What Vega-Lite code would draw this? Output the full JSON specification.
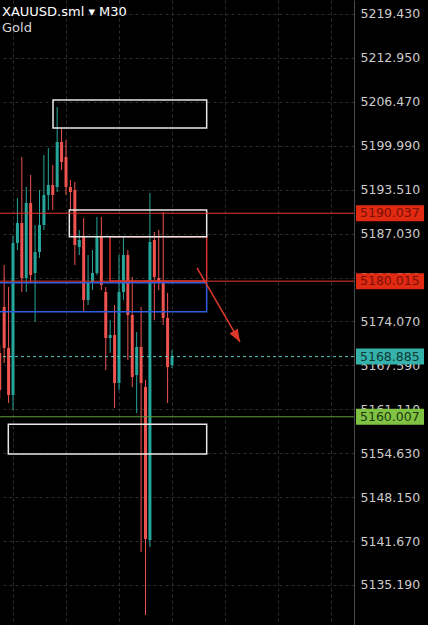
{
  "$schema": "https://vega.github.io/schema/vega-lite/v6.json",
  "width": 354,
  "height": 625,
  "autosize": {"type": "none"},
  "padding": {"left": 0, "top": 0, "right": 74, "bottom": 0},
  "background": "#000000",
  "config": {"view": {"stroke": null}},
  "title": {"text": "XAUUSD.sml ▾ M30", "subtitle": "Gold", "anchor": "start", "frame": "group", "offset": -35, "font": "DejaVu Sans", "fontSize": 13, "fontWeight": "normal", "color": "#ffffff", "subtitleFont": "DejaVu Sans", "subtitleFontSize": 13, "subtitleColor": "#d6d6d6", "subtitlePadding": 3, "dx": 2},
  "datasets": {
    "candles": [
      {"i":0,"o":5169.42,"h":5170.60,"l":5162.78,"c":5163.96},
      {"i":1,"o":5176.20,"h":5182.40,"l":5167.94,"c":5170.15},
      {"i":2,"o":5170.15,"h":5179.15,"l":5162.04,"c":5163.22},
      {"i":3,"o":5163.22,"h":5186.68,"l":5161.01,"c":5185.64},
      {"i":4,"o":5185.64,"h":5192.28,"l":5184.61,"c":5188.60},
      {"i":5,"o":5188.60,"h":5198.33,"l":5178.42,"c":5180.48},
      {"i":6,"o":5180.48,"h":5193.91,"l":5178.42,"c":5191.55},
      {"i":7,"o":5191.55,"h":5195.68,"l":5179.89,"c":5180.92},
      {"i":8,"o":5181.22,"h":5188.30,"l":5173.99,"c":5184.32},
      {"i":9,"o":5184.32,"h":5193.46,"l":5183.43,"c":5188.30},
      {"i":10,"o":5188.30,"h":5198.63,"l":5187.56,"c":5192.73},
      {"i":11,"o":5192.73,"h":5199.66,"l":5190.51,"c":5194.20},
      {"i":12,"o":5194.20,"h":5197.15,"l":5190.51,"c":5192.73},
      {"i":13,"o":5193.91,"h":5205.71,"l":5193.17,"c":5200.55},
      {"i":14,"o":5200.55,"h":5202.61,"l":5196.42,"c":5197.60},
      {"i":15,"o":5198.33,"h":5200.84,"l":5192.73,"c":5193.91},
      {"i":16,"o":5193.91,"h":5194.94,"l":5190.51,"c":5193.17},
      {"i":17,"o":5193.46,"h":5194.64,"l":5182.40,"c":5185.35},
      {"i":18,"o":5185.05,"h":5187.56,"l":5183.87,"c":5186.09},
      {"i":19,"o":5186.53,"h":5189.33,"l":5175.47,"c":5177.24},
      {"i":20,"o":5177.24,"h":5183.87,"l":5176.50,"c":5179.74},
      {"i":21,"o":5179.74,"h":5184.61,"l":5178.71,"c":5181.22},
      {"i":22,"o":5181.22,"h":5189.48,"l":5180.92,"c":5186.53},
      {"i":23,"o":5186.53,"h":5189.48,"l":5178.71,"c":5179.45},
      {"i":24,"o":5178.42,"h":5179.15,"l":5166.91,"c":5171.63},
      {"i":25,"o":5171.63,"h":5174.29,"l":5169.42,"c":5172.07},
      {"i":26,"o":5172.07,"h":5176.50,"l":5161.30,"c":5164.99},
      {"i":27,"o":5164.99,"h":5183.87,"l":5163.96,"c":5178.42},
      {"i":28,"o":5178.42,"h":5186.53,"l":5177.24,"c":5183.87},
      {"i":29,"o":5183.87,"h":5184.61,"l":5168.38,"c":5175.02},
      {"i":30,"o":5175.02,"h":5180.63,"l":5164.40,"c":5165.88},
      {"i":31,"o":5166.17,"h":5172.51,"l":5160.56,"c":5170.30},
      {"i":32,"o":5170.30,"h":5176.20,"l":5140.06,"c":5164.99},
      {"i":33,"o":5164.40,"h":5165.43,"l":5130.76,"c":5141.98},
      {"i":34,"o":5141.83,"h":5193.02,"l":5140.80,"c":5185.79},
      {"i":35,"o":5186.09,"h":5187.27,"l":5174.29,"c":5180.63},
      {"i":36,"o":5180.48,"h":5187.56,"l":5178.71,"c":5179.89},
      {"i":37,"o":5179.74,"h":5190.22,"l":5173.55,"c":5174.58},
      {"i":38,"o":5174.58,"h":5178.27,"l":5162.04,"c":5167.35},
      {"i":39,"o":5167.65,"h":5169.86,"l":5167.20,"c":5168.885}
    ],
    "rects": [
      {"kind":"zone","x1":12.06,"x2":46.85,"y1":5206.74,"y2":5202.61},
      {"kind":"target","x1":24.96,"x2":46.85,"y1":5186.57,"y2":5180.04},
      {"kind":"zone","x1":15.75,"x2":46.85,"y1":5190.51,"y2":5186.57},
      {"kind":"entry","x1":-2,"x2":46.85,"y1":5179.79,"y2":5175.51},
      {"kind":"zone","x1":1.94,"x2":46.85,"y1":5158.90,"y2":5154.52}
    ],
    "levels": [
      {"p":5190.037,"kind":"red"},
      {"p":5180.015,"kind":"red"},
      {"p":5168.885,"kind":"last"},
      {"p":5160.007,"kind":"green"}
    ],
    "arrow": [
      {"i":44.66,"v":5181.96,"end":false},
      {"i":54.39,"v":5171.04,"end":true}
    ]
  },
  "layer": [
    {
      "data": {"name": "candles"},
      "mark": {"type": "rule", "strokeWidth": 1, "clip": true},
      "encoding": {
        "x": {"field": "i", "type": "quantitative", "title": null, "scale": {"domain": [0.057, 80.2], "nice": false, "zero": false},
              "axis": {"values": [3,15,27,39,51,63,75], "labels": false, "ticks": false, "domain": false, "grid": true, "gridColor": "#2e2e2e", "gridDash": [3,3], "title": null}},
        "y": {"field": "l", "type": "quantitative", "title": null, "scale": {"domain": [5129.288, 5221.495], "nice": false, "zero": false},
              "axis": {"orient": "right", "values": [5219.43,5212.95,5206.47,5199.99,5193.51,5187.03,5180.55,5174.07,5167.59,5161.11,5154.63,5148.15,5141.67,5135.19], "format": ".3f", "labelFont": "DejaVu Sans", "labelFontSize": 12.5, "labelColor": "#cccccc", "labelPadding": 6, "ticks": false, "domainColor": "#4a4a4a", "grid": true, "gridColor": "#2e2e2e", "gridDash": [3,3], "title": null}},
        "y2": {"field": "h"},
        "color": {"condition": {"test": "datum.c >= datum.o", "value": "#26a69a"}, "value": "#ef5350"}
      }
    },
    {
      "data": {"name": "candles"},
      "mark": {"type": "rule", "strokeWidth": 3, "strokeCap": "butt", "clip": true},
      "encoding": {
        "x": {"field": "i", "type": "quantitative", "title": null},
        "y": {"field": "o", "type": "quantitative", "title": null},
        "y2": {"field": "c"},
        "color": {"condition": {"test": "datum.c >= datum.o", "value": "#26a69a"}, "value": "#ef5350"}
      }
    },
    {
      "data": {"name": "rects"},
      "mark": {"type": "rect", "filled": false, "strokeWidth": 1.5, "clip": true},
      "encoding": {
        "x": {"field": "x1", "type": "quantitative", "title": null},
        "x2": {"field": "x2"},
        "y": {"field": "y1", "type": "quantitative", "title": null},
        "y2": {"field": "y2"},
        "stroke": {"field": "kind", "type": "nominal", "legend": null, "scale": {"domain": ["zone","target","entry"], "range": ["#e8e8e8","#d9342b","#2f5fe0"]}}
      }
    },
    {
      "data": {"name": "levels"},
      "transform": [{"filter": "datum.kind == 'red'"}],
      "mark": {"type": "rule", "color": "#e0392b", "strokeWidth": 1},
      "encoding": {"y": {"field": "p", "type": "quantitative", "title": null}}
    },
    {
      "data": {"name": "levels"},
      "transform": [{"filter": "datum.kind == 'last'"}],
      "mark": {"type": "rule", "color": "#5ec8bf", "strokeWidth": 1, "strokeDash": [3,3]},
      "encoding": {"y": {"field": "p", "type": "quantitative", "title": null}}
    },
    {
      "data": {"name": "levels"},
      "transform": [{"filter": "datum.kind == 'green'"}],
      "mark": {"type": "rule", "color": "#5f9d3f", "strokeWidth": 1},
      "encoding": {"y": {"field": "p", "type": "quantitative", "title": null}}
    },
    {
      "data": {"name": "arrow"},
      "mark": {"type": "line", "color": "#e0392b", "strokeWidth": 1.5},
      "encoding": {
        "x": {"field": "i", "type": "quantitative", "title": null},
        "y": {"field": "v", "type": "quantitative", "title": null}
      }
    },
    {
      "data": {"name": "arrow"},
      "transform": [{"filter": "datum.end"}],
      "mark": {"type": "point", "shape": "M0,0L0.75,2L-0.75,2Z", "angle": 150, "size": 160, "filled": true, "color": "#e0392b", "opacity": 1},
      "encoding": {
        "x": {"field": "i", "type": "quantitative", "title": null},
        "y": {"field": "v", "type": "quantitative", "title": null}
      }
    },
    {
      "data": {"name": "levels"},
      "mark": {"type": "rule", "strokeWidth": 16, "strokeCap": "butt"},
      "encoding": {
        "x": {"datum": 80.65},
        "x2": {"datum": 96.05},
        "y": {"field": "p", "type": "quantitative", "title": null},
        "color": {"field": "kind", "type": "nominal", "legend": null, "scale": {"domain": ["red","last","green"], "range": ["#e02a12","#35b3ab","#80c243"]}}
      }
    },
    {
      "data": {"name": "levels"},
      "mark": {"type": "text", "align": "left", "baseline": "middle", "font": "DejaVu Sans", "fontSize": 12.5},
      "encoding": {
        "x": {"datum": 81.56},
        "y": {"field": "p", "type": "quantitative", "title": null},
        "text": {"field": "p", "type": "quantitative", "format": ".3f"},
        "fill": {"field": "kind", "type": "nominal", "legend": null, "scale": {"domain": ["red","last","green"], "range": ["#7a0f05","#0d3937","#1d3b0c"]}}
      }
    }
  ]
}
